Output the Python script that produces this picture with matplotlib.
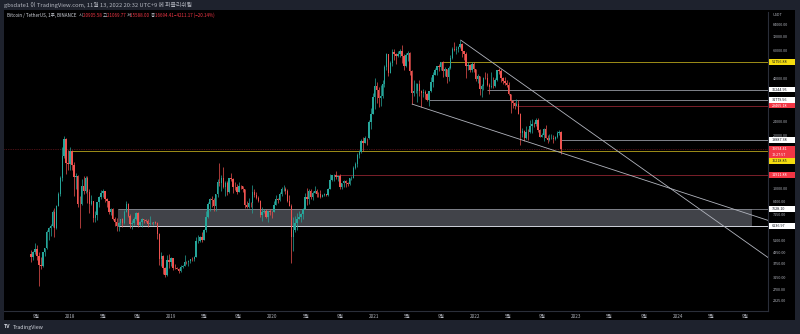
import numpy as np
import pandas as pd
import matplotlib
matplotlib.use("Agg")
import matplotlib.pyplot as plt
import matplotlib.dates as mdates
from matplotlib.patches import Rectangle
from matplotlib.ticker import NullLocator

plt.rcParams["font.family"] = ["Noto Sans CJK KR", "DejaVu Sans"]

W, H = 800, 334

# Weekly BTC/USDT candles (Binance), first week starts 2017-08-14
first_week = "2017-08-14"
first_open = 4261.48
week_close = [
    # 2017
    4087, 4352, 4580, 4150, 3700, 3650, 4380, 4600, 5700, 6000, 6150, 7400, 5950, 8000, 9300, 11400,
    15200, 19100, 13950, 13716,
    # 2018
    16200, 13600, 11550, 11750, 8200, 8130, 10400, 9650, 11450, 9500, 8200, 8450, 6850, 7050, 8350, 8900,
    9400, 9650, 8700, 8500, 7350, 7700, 6770, 6450, 6150, 6350, 6750, 6350, 7400, 8200, 7030, 6300,
    6400, 6700, 7250, 6250, 6500, 6700, 6600, 6580, 6300, 6400, 6350, 6450, 6350, 5550, 4000, 4150,
    3550, 3250, 3950, 3850,
    # 2019
    4050, 3550, 3540, 3530, 3410, 3620, 3670, 3850, 3820, 3920, 4000, 3990, 4100, 5050, 5070, 5300,
    5150, 5800, 6950, 8200, 8700, 8600, 7950, 9350, 10850, 10800, 11500, 10200, 10750, 9500, 11500, 11300,
    10200, 10150, 9600, 10400, 10300, 10000, 8050, 7850, 8300, 8250, 9550, 9200, 8800, 8500, 7050, 7400,
    7500, 6900, 7500, 7400,
    # 2020
    7350, 8100, 8700, 8600, 9300, 9900, 9920, 9700, 8550, 8000, 5350, 5800, 6400, 6770, 6900, 7150,
    7700, 8900, 8750, 9700, 8900, 9450, 9700, 9350, 9300, 9000, 9250, 9270, 9150, 9950, 11200, 11850,
    11900, 11650, 11700, 10250, 10700, 11080, 10750, 10650, 11400, 11500, 13030, 13800, 15500, 16050, 18650, 18150,
    19350, 19250, 23850, 26500,
    # 2021
    33000, 38200, 36000, 32300, 33500, 38900, 48600, 57500, 45200, 51000, 59000, 57300, 55800, 57900, 59800, 56200,
    49100, 56600, 58200, 46400, 34700, 35700, 35800, 39100, 35600, 34700, 35300, 34250, 31800, 35400, 39850, 43800,
    47000, 49300, 48800, 51757, 46000, 47250, 42800, 48200, 54650, 61550, 60850, 61300, 63250, 65500, 59700, 57250,
    49400, 50100, 46700, 50800,
    # 2022
    47300, 41850, 43100, 36300, 37900, 42400, 42200, 38350, 37700, 38000, 37800, 41250, 46850, 46400, 42150, 40400,
    39450, 38450, 34300, 31300, 30300, 29450, 29900, 26550, 20550, 21050, 19300, 20850, 20800, 22600, 23300, 23200,
    24300, 21500, 19550, 19950, 21800, 19400, 18800, 19300, 19400, 19050, 19550, 20600, 20905.58, 16694.41,
]
week_high = [
    # 2017
    4485, 4453, 4939, 4789, 4370, 4120, 4400, 4630, 5860, 6100, 6300, 7600, 7776, 8100, 9600, 11800,
    17200, 19798, 19200, 16500,
    # 2018
    17250, 16600, 14200, 12200, 11950, 9050, 11300, 11750, 11700, 11700, 9900, 9200, 8500, 7500, 8430, 9035,
    9750, 9990, 9700, 8880, 8550, 7750, 7750, 6900, 6800, 6500, 6750, 6800, 7580, 8500, 8250, 7150,
    6650, 6900, 7400, 7400, 6580, 6800, 6750, 6700, 6700, 7000, 6500, 6500, 6550, 6450, 5600, 4400,
    4220, 3620, 4200, 4250,
    # 2019
    4100, 4070, 3770, 3620, 3550, 3700, 3700, 4200, 3900, 3950, 4000, 4080, 4140, 5300, 5470, 5400,
    5650, 5900, 7500, 8350, 8800, 9090, 8800, 9350, 11300, 13970, 12000, 13200, 11100, 11050, 11500, 12300,
    11500, 10950, 10600, 10950, 10500, 10350, 10000, 8500, 8800, 8400, 10500, 9950, 9500, 9100, 8600, 7850,
    7700, 7650, 7500, 7700,
    # 2020
    7500, 8450, 9200, 8800, 9550, 10150, 10500, 10250, 9970, 9200, 8150, 6900, 6970, 7300, 7450, 7300,
    7750, 9450, 10050, 9900, 9900, 9700, 10400, 9950, 9600, 9800, 9350, 9450, 9350, 10100, 12100, 11900,
    12050, 12490, 11800, 12050, 10700, 11180, 11180, 10950, 11500, 11720, 13350, 14100, 15900, 16500, 18950, 19500,
    19900, 19400, 24300, 28400,
    # 2021
    34800, 42000, 40100, 37500, 38500, 41000, 49700, 58350, 57600, 52650, 61800, 61200, 58400, 60000, 61200, 64850,
    57500, 58000, 59600, 59300, 46650, 40850, 39500, 39600, 41300, 36000, 36600, 35950, 34700, 35500, 42600, 45300,
    48150, 49400, 50500, 51900, 52900, 48850, 47350, 49200, 56550, 62900, 67000, 63700, 64300, 69000, 66300, 59900,
    59200, 51950, 50300, 51900,
    # 2022
    52100, 47550, 44400, 43500, 38900, 42650, 45850, 44750, 39500, 45400, 42600, 42350, 47000, 48200, 47500, 42500,
    42950, 40800, 40000, 34400, 31450, 30650, 32200, 31750, 26900, 21900, 21500, 22500, 21600, 24300, 24650, 23650,
    25200, 25000, 21800, 20550, 21850, 22800, 19950, 20350, 20450, 19950, 19700, 21050, 21450, 21069.77,
]
week_low = [
    # 2017
    3850, 3950, 4250, 3950, 2817, 3500, 3580, 4150, 4560, 5100, 5400, 6030, 5325, 5900, 7950, 9100,
    11000, 14800, 12100, 12700,
    # 2018
    12750, 12800, 9035, 10000, 7900, 6000, 8050, 9300, 9400, 8330, 7300, 8050, 6450, 6500, 6600, 7850,
    8700, 9000, 8350, 7900, 7150, 7050, 6600, 6150, 5750, 5790, 6250, 6100, 6300, 7350, 6900, 6000,
    5880, 6250, 6650, 6100, 6180, 6100, 6400, 6450, 6100, 6250, 6300, 6250, 6300, 5200, 3700, 3650,
    3300, 3156, 3200, 3550,
    # 2019
    3640, 3470, 3500, 3500, 3350, 3380, 3550, 3650, 3750, 3670, 3800, 3880, 3900, 4100, 4900, 5000,
    4970, 5100, 5700, 6800, 7500, 7900, 7450, 7500, 8950, 10300, 9650, 10100, 9050, 9150, 9400, 11000,
    9450, 9800, 9350, 9600, 9950, 9600, 7750, 7800, 7750, 7850, 7300, 9000, 8700, 8350, 6900, 6550,
    7250, 6850, 6450, 7050,
    # 2020
    6850, 7350, 8050, 8250, 8550, 9100, 9700, 9300, 8400, 8000, 3782, 4450, 5700, 5850, 6750, 6450,
    6750, 7650, 8100, 8200, 8700, 8650, 9400, 9000, 8900, 8850, 8950, 9100, 9050, 9100, 9900, 11000,
    11100, 11350, 11100, 9900, 9900, 10200, 10150, 10370, 10530, 11200, 11400, 12900, 13250, 14800, 15800, 16200,
    18150, 17600, 19000, 21800,
    # 2021
    26400, 28100, 30400, 28850, 29250, 32300, 37400, 47000, 43000, 45000, 49300, 53200, 50400, 55500, 55500, 51500,
    47000, 48750, 52900, 43800, 30000, 33400, 34800, 31000, 33400, 28800, 32700, 32100, 31100, 29300, 35200, 37300,
    43700, 43950, 46400, 46550, 42800, 43350, 39600, 40750, 47100, 53900, 59550, 57850, 59350, 62300, 55600, 53250,
    42000, 46750, 45450, 45550,
    # 2022
    45700, 40500, 39650, 34000, 32900, 36250, 41700, 38000, 34300, 37200, 37150, 37550, 40500, 44200, 40150, 39200,
    38550, 37550, 33700, 26700, 28650, 28000, 29300, 26500, 17600, 19600, 18600, 19050, 18900, 20700, 20700, 22400,
    22650, 20750, 19500, 19500, 18550, 19300, 18150, 18500, 19100, 18150, 18900, 19250, 20050, 15588,
]

# Horizontal levels drawn on the chart
level_price = [51756.88, 36244.95, 31779.56, 29465.18, 18887.38, 16218.85, 11911.88]
level_from = ["2021-08-30", "2022-02-14", "2021-07-19", "2022-06-01", "2022-11-02", "2018-01-08", "2020-08-10"]
level_style = ["yellow", "white", "white", "red", "white", "yellow", "red"]

# Grey zone
zone_top, zone_bottom = 7628.10, 6136.97
zone_from, zone_to = "2018-06-22", "2024-09-27"

# Trend lines (date, price)
upper_dates, upper_prices = ["2021-11-10", "2024-11-22"], [69000, 4077]
lower_dates, lower_prices = ["2021-05-19", "2024-11-22"], [30000, 6610]

last_price = 16694.41
countdown = "12:27:57"

price_ticks = [84000, 72000, 60000, 42000, 24000, 20000, 10000, 8400, 7150, 5100, 4350, 3750, 3150, 2700, 2325]

x_left, x_right = "2017-05-08", "2024-11-22"
y_low, y_high = 2032, 99480


def d2n(d):
    return mdates.date2num(pd.Timestamp(d))


def box(x, y, w, h):
    # pixel box, top-left origin -> figure fraction
    return [x / W, 1 - (y + h) / H, w / W, h / H]


fig = plt.figure(figsize=(W / 100, H / 100), dpi=100, facecolor="#1e222d")
fig.add_artist(Rectangle((4 / W, 1 - 320 / H), 791 / W, 310 / H, transform=fig.transFigure,
                         fc="black", ec="none", zorder=-1))
ax = fig.add_axes(box(4, 12, 764, 299), facecolor="black")

# Candles
dates = pd.date_range(first_week, periods=len(week_close), freq="7D")
x = mdates.date2num(dates)
close = np.array(week_close, dtype=float)
high = np.array(week_high, dtype=float)
low = np.array(week_low, dtype=float)
open_ = np.r_[first_open, close[:-1]]
colors = np.where(close >= open_, "#26a69a", "#ef5350")
ax.vlines(x, low, high, colors=colors, lw=0.5, zorder=3)
ax.bar(x, np.abs(close - open_), bottom=np.minimum(open_, close), width=5.2,
       color=colors, lw=0, zorder=3)

# Levels
line_colors = {"yellow": "#b8a41c", "white": "#9598a1", "red": "#8e2430"}
xr = d2n(x_right)
for p, d, s in zip(level_price, level_from, level_style):
    ax.hlines(p, d2n(d), xr, color=line_colors[s], lw=0.6, zorder=2)

# Zone
z0, z1 = d2n(zone_from), d2n(zone_to)
ax.add_patch(Rectangle((z0, zone_bottom), z1 - z0, zone_top - zone_bottom,
                       fc="#787b86", alpha=0.55, ec="none", zorder=1))
ax.hlines(zone_top, z0, xr, color="#9598a1", lw=0.5, zorder=2)
ax.hlines(zone_bottom, z0, xr, color="#d1d4dc", lw=0.7, zorder=2)

# Trend lines
ax.plot([d2n(d) for d in upper_dates], upper_prices, color="#b2b5be", lw=0.6, zorder=4)
ax.plot([d2n(d) for d in lower_dates], lower_prices, color="#b2b5be", lw=0.6, zorder=4)

# Last price line
ax.axhline(last_price, color="#f23645", lw=0.5, ls=(0, (1, 1.5)), alpha=0.6, zorder=2)

# Axes
ax.set_yscale("log")
ax.set_ylim(y_low, y_high)
ax.set_xlim(d2n(x_left), xr)
ax.yaxis.tick_right()
ax.set_yticks(price_ticks)
ax.set_yticklabels([f"{v:.2f}" for v in price_ticks])
ax.yaxis.set_minor_locator(NullLocator())
ax.tick_params(axis="y", length=0, pad=3.6, labelsize=2.7, colors="#b2b5be")

tick_days = pd.date_range("2017-09-01", "2024-09-01", freq="4MS")
ax.set_xticks(mdates.date2num(tick_days))
ax.set_xticklabels([str(d.year) if d.month == 1 else f"{d.month}월" for d in tick_days])
ax.tick_params(axis="x", length=0, pad=2.4, labelsize=3.3, colors="#b2b5be")

for side in ["top", "left"]:
    ax.spines[side].set_visible(False)
for side in ["right", "bottom"]:
    ax.spines[side].set_color("#2a2e39")
    ax.spines[side].set_linewidth(0.8)


# Price tags on the axis
def ypix(v):
    return H - ax.transData.transform((ax.get_xlim()[0], v))[1]


tag_colors = {"yellow": ("#f5dc0f", "#131722"), "white": ("#ffffff", "#131722"),
              "red": ("#f23645", "#ffffff")}


def tag(y, lines, style):
    fc, tc = tag_colors[style]
    h = 5.8 * len(lines)
    fig.add_artist(Rectangle((769 / W, 1 - (y - 2.9 + h) / H), 26 / W, h / H,
                             transform=fig.transFigure, fc=fc, ec="none", zorder=5))
    for i, t in enumerate(lines):
        fig.text(772 / W, 1 - (y + 5.8 * i) / H, t, color=tc, fontsize=2.7,
                 va="center", ha="left", zorder=6)


last_y = ypix(last_price)
for p, s in zip(level_price, level_style):
    y = ypix(p)
    if abs(y - last_y) < 8.7:
        y = last_y + 11.6
    tag(y, [f"{p:.2f}"], s)
tag(ypix(zone_top), [f"{zone_top:.2f}"], "white")
tag(ypix(zone_bottom), [f"{zone_bottom:.2f}"], "white")
tag(last_y, [f"{last_price:.2f}", countdown], "red")

fig.text(773 / W, 1 - 14.7 / H, "USDT", color="#b2b5be", fontsize=2.7, va="center", ha="left")

# Header and legend
fig.text(4 / W, 1 - 5 / H, "gbsdate1 이 TradingView.com, 11월 13, 2022 20:32 UTC+9 에 퍼블리쉬됨",
         color="#b2b5be", fontsize=4.2, va="center", ha="left")

legend_parts = [
    ("Bitcoin / TetherUS, 1주, BINANCE  ", "#d1d4dc"),
    ("시", "#b2b5be"), ("20905.58 ", "#f23645"),
    ("고", "#b2b5be"), ("21069.77 ", "#f23645"),
    ("저", "#b2b5be"), ("15588.00 ", "#f23645"),
    ("종", "#b2b5be"), ("16694.41 ", "#f23645"),
    ("−4211.17 (−20.14%)", "#f23645"),
]
renderer = fig.canvas.get_renderer()
xpos = 7
for txt, col in legend_parts:
    t = fig.text(xpos / W, 1 - 15.5 / H, txt, color=col, fontsize=3.25, va="center", ha="left")
    xpos += t.get_window_extent(renderer).width

# Footer logo
fig.text(4 / W, 1 - 327 / H, "TV", color="#d1d4dc", fontsize=3.8, weight="bold", va="center", ha="left")
fig.text(12.5 / W, 1 - 327 / H, "TradingView", color="#d1d4dc", fontsize=3.8, va="center", ha="left")

fig.savefig("out.png", dpi=100, facecolor=fig.get_facecolor())
